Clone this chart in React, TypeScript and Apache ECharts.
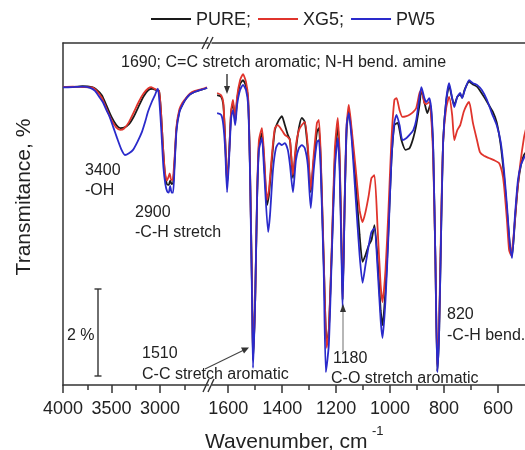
import React, { useEffect, useRef } from 'react';
import * as echarts from 'echarts';

const FONT = 'Liberation Sans, Arial, Helvetica, sans-serif';
const legendNames = ['PURE;', 'XG5;', 'PW5'];
const colors = ['#1a1a1a', '#e0342c', '#2a2acb'];
const leftTicks = [4000, 3500, 3000];
const rightTicks = [1600, 1400, 1200, 1000, 800, 600];
const rightMinorTicks = [1500, 1300, 1100, 900, 700];

// [wavenumber cm-1, transmittance (%, offset scale)]
const pureLeft = [[4000,6.97],[3900,6.97],[3800,6.99],[3700,6.97],[3660,6.92],[3600,6.78],[3550,6.53],[3500,6.27],[3450,6.08],[3410,6.01],[3370,6.02],[3320,6.10],[3270,6.28],[3220,6.52],[3170,6.75],[3120,6.90],[3080,6.93],[3040,6.90],[3010,6.88],[2990,6.40],[2970,5.60],[2950,4.95],[2930,4.70],[2910,4.68],[2895,4.78],[2880,4.70],[2865,4.72],[2850,5.20],[2830,6.00],[2800,6.40],[2770,6.55],[2730,6.70],[2690,6.80],[2640,6.86],[2590,6.90],[2540,6.93],[2515,6.95]];
const xg5Left = [[4000,6.97],[3900,6.98],[3800,6.97],[3700,6.96],[3660,6.90],[3600,6.72],[3550,6.45],[3500,6.20],[3450,6.02],[3410,5.97],[3370,6.00],[3320,6.15],[3270,6.38],[3220,6.62],[3170,6.82],[3120,6.94],[3090,6.97],[3050,6.92],[3010,6.88],[2990,6.40],[2970,5.60],[2950,5.00],[2930,4.78],[2915,4.85],[2900,4.95],[2885,4.80],[2870,4.80],[2850,5.30],[2830,6.05],[2800,6.45],[2770,6.60],[2730,6.72],[2690,6.82],[2640,6.88],[2590,6.91],[2540,6.94],[2515,6.96]];
const pw5Left = [[4000,6.96],[3900,6.97],[3800,6.98],[3720,6.95],[3670,6.88],[3620,6.72],[3590,6.62],[3550,6.42],[3515,6.25],[3480,6.02],[3443,5.78],[3400,5.52],[3361,5.38],[3320,5.42],[3278,5.50],[3230,5.70],[3186,5.92],[3150,6.18],[3124,6.39],[3085,6.62],[3052,6.78],[3035,6.88],[3021,6.93],[3005,6.60],[2985,5.90],[2965,5.10],[2945,4.70],[2925,4.52],[2910,4.50],[2895,4.66],[2880,4.50],[2865,4.50],[2850,5.10],[2830,5.95],[2800,6.38],[2770,6.55],[2730,6.70],[2690,6.80],[2640,6.86],[2590,6.90],[2540,6.93],[2515,6.95]];

const pureRight = [[1641,6.78],[1626,6.74],[1618,6.55],[1611,5.73],[1604,4.68],[1596,5.50],[1589,6.39],[1582,6.60],[1574,6.15],[1567,6.67],[1556,7.04],[1545,7.13],[1534,6.99],[1526,6.67],[1519,5.03],[1511,1.99],[1508,0.58],[1500,1.99],[1493,4.33],[1486,5.61],[1475,5.89],[1467,5.26],[1456,4.21],[1449,4.44],[1438,5.26],[1427,5.96],[1412,6.20],[1401,6.29],[1390,6.08],[1379,5.85],[1371,5.73],[1360,4.84],[1349,5.50],[1338,6.01],[1327,6.25],[1316,6.15],[1305,5.50],[1294,4.51],[1283,5.26],[1271,5.92],[1264,6.01],[1257,5.26],[1246,2.92],[1235,0.94],[1227,1.29],[1216,3.16],[1205,5.26],[1194,6.08],[1187,5.26],[1179,2.92],[1176,1.99],[1168,4.33],[1161,5.96],[1153,6.43],[1142,5.85],[1127,4.68],[1113,3.51],[1102,2.88],[1091,3.04],[1079,3.27],[1069,3.39],[1058,3.74],[1046,2.92],[1035,1.75],[1028,1.40],[1017,2.22],[1006,3.63],[995,5.26],[984,6.08],[972,6.13],[958,5.73],[943,5.50],[928,5.54],[914,5.78],[903,6.08],[891,6.55],[884,6.90],[873,6.62],[862,6.36],[851,6.55],[847,6.35],[840,5.45],[832,2.90],[825,0.32],[818,1.30],[810,3.90],[803,5.75],[792,6.65],[781,7.00],[770,6.70],[762,6.55],[751,6.74],[740,6.80],[733,6.72],[723,6.92],[707,7.10],[693,7.03],[678,6.98],[663,6.85],[649,6.71],[634,6.55],[619,6.39],[605,6.15],[590,5.61],[578,4.91],[567,4.09],[556,3.27],[548,3.02],[537,3.86],[526,4.68],[515,5.15],[504,5.38],[496,5.45]];
const xg5Right = [[1641,6.83],[1626,6.78],[1618,6.60],[1611,5.73],[1604,4.73],[1596,5.50],[1589,6.43],[1582,6.67],[1574,6.20],[1567,6.74],[1556,7.13],[1545,7.27],[1534,7.09],[1526,6.71],[1519,5.03],[1511,1.99],[1508,0.70],[1500,1.99],[1493,4.44],[1486,5.73],[1475,6.01],[1467,5.38],[1456,4.33],[1449,4.56],[1438,5.38],[1427,6.01],[1416,6.08],[1401,5.96],[1390,5.85],[1379,5.80],[1371,5.73],[1360,4.91],[1349,5.61],[1338,5.96],[1327,6.08],[1316,6.15],[1305,5.61],[1294,4.56],[1283,5.38],[1271,6.13],[1264,6.20],[1257,5.38],[1246,2.97],[1235,0.87],[1227,1.29],[1216,3.27],[1205,5.50],[1194,6.25],[1187,5.38],[1179,3.04],[1176,2.04],[1168,4.44],[1161,6.08],[1153,6.55],[1142,5.96],[1127,5.03],[1113,4.09],[1102,3.81],[1091,4.05],[1079,4.44],[1069,4.84],[1058,4.91],[1046,3.63],[1035,2.34],[1028,1.94],[1017,2.69],[1006,4.09],[995,5.73],[984,6.67],[976,6.71],[965,6.43],[954,6.27],[939,6.29],[928,6.32],[914,6.39],[903,6.48],[891,6.83],[884,6.90],[873,6.60],[866,6.57],[855,6.62],[847,6.20],[840,5.26],[832,2.92],[825,0.47],[818,1.52],[810,4.09],[803,5.73],[792,6.48],[781,6.74],[770,6.32],[762,5.73],[751,5.96],[740,6.08],[727,6.39],[716,6.55],[707,6.62],[693,6.13],[678,5.73],[667,5.45],[652,5.36],[634,5.31],[615,5.26],[596,5.19],[585,4.98],[578,4.68],[567,3.86],[559,3.16],[552,3.04],[541,3.58],[530,4.44],[518,5.15],[504,5.78],[496,6.00]];
const pw5Right = [[1641,6.36],[1626,6.32],[1618,6.08],[1611,5.50],[1604,4.51],[1596,5.38],[1589,6.25],[1582,6.43],[1574,6.08],[1567,6.55],[1556,6.90],[1545,7.02],[1534,6.90],[1526,6.55],[1519,4.91],[1511,1.75],[1508,0.40],[1500,1.99],[1493,4.33],[1486,5.50],[1475,5.78],[1467,5.03],[1452,3.58],[1445,3.98],[1434,5.03],[1423,5.54],[1412,5.66],[1401,5.61],[1390,5.66],[1379,5.50],[1371,5.15],[1360,4.51],[1349,5.26],[1338,5.54],[1327,5.61],[1316,5.54],[1305,5.15],[1294,4.14],[1283,5.03],[1271,5.68],[1264,5.73],[1257,5.03],[1246,2.69],[1238,0.30],[1227,0.94],[1216,3.04],[1205,5.03],[1194,5.78],[1187,5.03],[1179,2.69],[1176,1.80],[1168,4.33],[1161,6.08],[1153,6.36],[1142,5.73],[1127,4.33],[1113,3.04],[1102,2.39],[1091,2.81],[1079,3.27],[1069,3.58],[1058,3.67],[1046,2.69],[1035,1.52],[1028,1.10],[1017,1.99],[1006,3.51],[995,5.26],[984,6.15],[976,6.32],[965,6.08],[954,5.73],[939,5.78],[928,5.85],[914,5.96],[903,6.20],[891,6.74],[884,6.97],[873,6.71],[866,6.62],[855,6.71],[847,6.43],[840,5.50],[832,2.92],[825,0.30],[818,1.29],[810,3.86],[803,5.73],[792,6.67],[781,7.06],[770,6.71],[762,6.50],[751,6.74],[740,6.83],[733,6.71],[723,6.90],[707,7.13],[693,7.06],[678,7.02],[660,6.90],[641,6.67],[623,6.36],[605,6.08],[590,5.68],[578,5.03],[567,4.21],[556,3.27],[548,2.97],[537,3.98],[526,4.80],[515,5.15],[504,5.31],[496,5.40]];

const leftSeries = [pureLeft, xg5Left, pw5Left];
const rightSeries = [pureRight, xg5Right, pw5Right];

const AX = '#333';
const TXT = '#222';

function txt(text: string, x: number, y: number, size = 16, extra: any = {}) {
  return {
    type: 'text', x, y, silent: true, z: 50,
    style: { text, fill: TXT, fontSize: size, fontFamily: FONT, textAlign: 'left', textVerticalAlign: 'middle', ...extra },
  };
}
function seg(x1: number, y1: number, x2: number, y2: number, stroke = AX, lineWidth = 1.4) {
  return { type: 'line', silent: true, z: 50, shape: { x1, y1, x2, y2 }, style: { stroke, lineWidth } };
}
function tri(pts: number[][], fill = AX) {
  return { type: 'polygon', silent: true, z: 50, shape: { points: pts }, style: { fill } };
}

export default function App() {
  const ref = useRef<HTMLDivElement>(null);
  useEffect(() => {
    if (!ref.current) return;
    const chart = echarts.init(ref.current, null, { renderer: 'svg' });
    const axisLineStyle = { color: AX, width: 1.5 };
    const labelStyle = { fontSize: 18, color: TXT, fontFamily: FONT, margin: 14 };
    const series: any[] = [];
    legendNames.forEach((name, i) => {
      series.push({
        type: 'line', name, xAxisIndex: 0, yAxisIndex: 0, data: leftSeries[i],
        symbol: 'none', showSymbol: false, smooth: 0.2,
        lineStyle: { color: colors[i], width: 1.8 }, itemStyle: { color: colors[i] }, z: 2 + i,
      });
      series.push({
        type: 'line', name, xAxisIndex: 1, yAxisIndex: 1, data: rightSeries[i],
        symbol: 'none', showSymbol: false, smooth: 0.2,
        lineStyle: { color: colors[i], width: 1.8 }, itemStyle: { color: colors[i] }, z: 2 + i,
      });
    });
    const option: any = {
      animation: false,
      color: colors,
      textStyle: { fontFamily: FONT },
      legend: {
        data: legendNames, left: 146, top: 5, icon: 'rect', itemWidth: 40, itemHeight: 2, itemGap: 7,
        textStyle: { fontSize: 18, color: TXT, fontFamily: FONT },
      },
      grid: [
        { left: 63, top: 43, width: 145.5, height: 342 },
        { left: 212, top: 43, right: 0, height: 342 },
        { left: 212, top: 43, right: 0, height: 342 },
      ],
      xAxis: [
        {
          gridIndex: 0, type: 'value', inverse: true, min: 2500, max: 4000, interval: 500, position: 'bottom',
          axisLine: { show: true, lineStyle: axisLineStyle },
          axisTick: { show: true, customValues: leftTicks, length: 8, lineStyle: axisLineStyle },
          minorTick: { show: true, splitNumber: 2, length: 5, lineStyle: axisLineStyle },
          axisLabel: { ...labelStyle, customValues: leftTicks, formatter: (v: number) => String(v) },
          splitLine: { show: false }, minorSplitLine: { show: false },
        },
        {
          gridIndex: 1, type: 'value', inverse: true, min: 500, max: 1660, position: 'bottom',
          axisLine: { show: true, lineStyle: axisLineStyle },
          axisTick: { show: true, customValues: rightTicks, length: 8, lineStyle: axisLineStyle },
          axisLabel: { ...labelStyle, customValues: rightTicks, formatter: (v: number) => String(v) },
          splitLine: { show: false },
        },
        {
          gridIndex: 0, type: 'value', inverse: true, min: 2500, max: 4000, position: 'top',
          axisLine: { show: true, lineStyle: axisLineStyle }, axisTick: { show: false },
          axisLabel: { show: false }, splitLine: { show: false },
        },
        {
          gridIndex: 1, type: 'value', inverse: true, min: 500, max: 1660, position: 'top',
          axisLine: { show: true, lineStyle: axisLineStyle }, axisTick: { show: false },
          axisLabel: { show: false }, splitLine: { show: false },
        },
        {
          gridIndex: 2, type: 'value', inverse: true, min: 500, max: 1660, position: 'bottom',
          axisLine: { show: false },
          axisTick: { show: true, customValues: rightMinorTicks, length: 5, lineStyle: axisLineStyle },
          axisLabel: { show: false }, splitLine: { show: false },
        },
      ],
      yAxis: [
        {
          gridIndex: 0, type: 'value', min: 0, max: 8,
          axisLine: { show: true, lineStyle: axisLineStyle }, axisTick: { show: false },
          axisLabel: { show: false }, splitLine: { show: false },
        },
        { gridIndex: 1, type: 'value', min: 0, max: 8, show: false, splitLine: { show: false } },
        { gridIndex: 2, type: 'value', min: 0, max: 8, show: false, splitLine: { show: false } },
      ],
      series,
      graphic: [
        { type: 'text', x: 22, y: 197, rotation: Math.PI / 2, silent: true,
          style: { text: 'Transmitance, %', fill: TXT, fontSize: 21, fontFamily: FONT, textAlign: 'center', textVerticalAlign: 'middle' } },
        txt('Wavenumber, cm', 205, 440, 21),
        txt('-1', 372, 430, 13),
        txt('1690; C=C stretch aromatic; N-H bend. amine', 121, 61),
        txt('3400', 85, 169), txt('-OH', 85, 189),
        txt('2900', 135, 211), txt('-C-H stretch', 135, 231),
        txt('2 %', 67, 334),
        txt('1510', 142, 352), txt('C-C stretch aromatic', 142, 373),
        txt('1180', 333, 357), txt('C-O stretch aromatic', 331, 377),
        txt('820', 447, 313), txt('-C-H bend.', 447, 334),
        seg(98, 289, 98, 376), seg(94.5, 289, 101.5, 289), seg(94.5, 376, 101.5, 376),
        seg(227, 74, 227, 87), tri([[224, 86], [230, 86], [227, 94]]),
        seg(205, 369, 244, 350, '#444', 1.1), tri([[249, 347.5], [241, 347.5], [244, 353.5]]),
        seg(343, 352, 343, 311, '#999', 1.4), tri([[340, 312], [346, 312], [343, 304]]),
        seg(202, 49, 208, 37), seg(207, 49, 213, 37),
        seg(203, 392, 209, 379), seg(208, 392, 214, 379),
      ],
    };
    chart.setOption(option);
    return () => chart.dispose();
  }, []);
  return <div ref={ref} style={{ position: 'fixed', left: 0, top: 0, width: 525, height: 450 }} />;
}
